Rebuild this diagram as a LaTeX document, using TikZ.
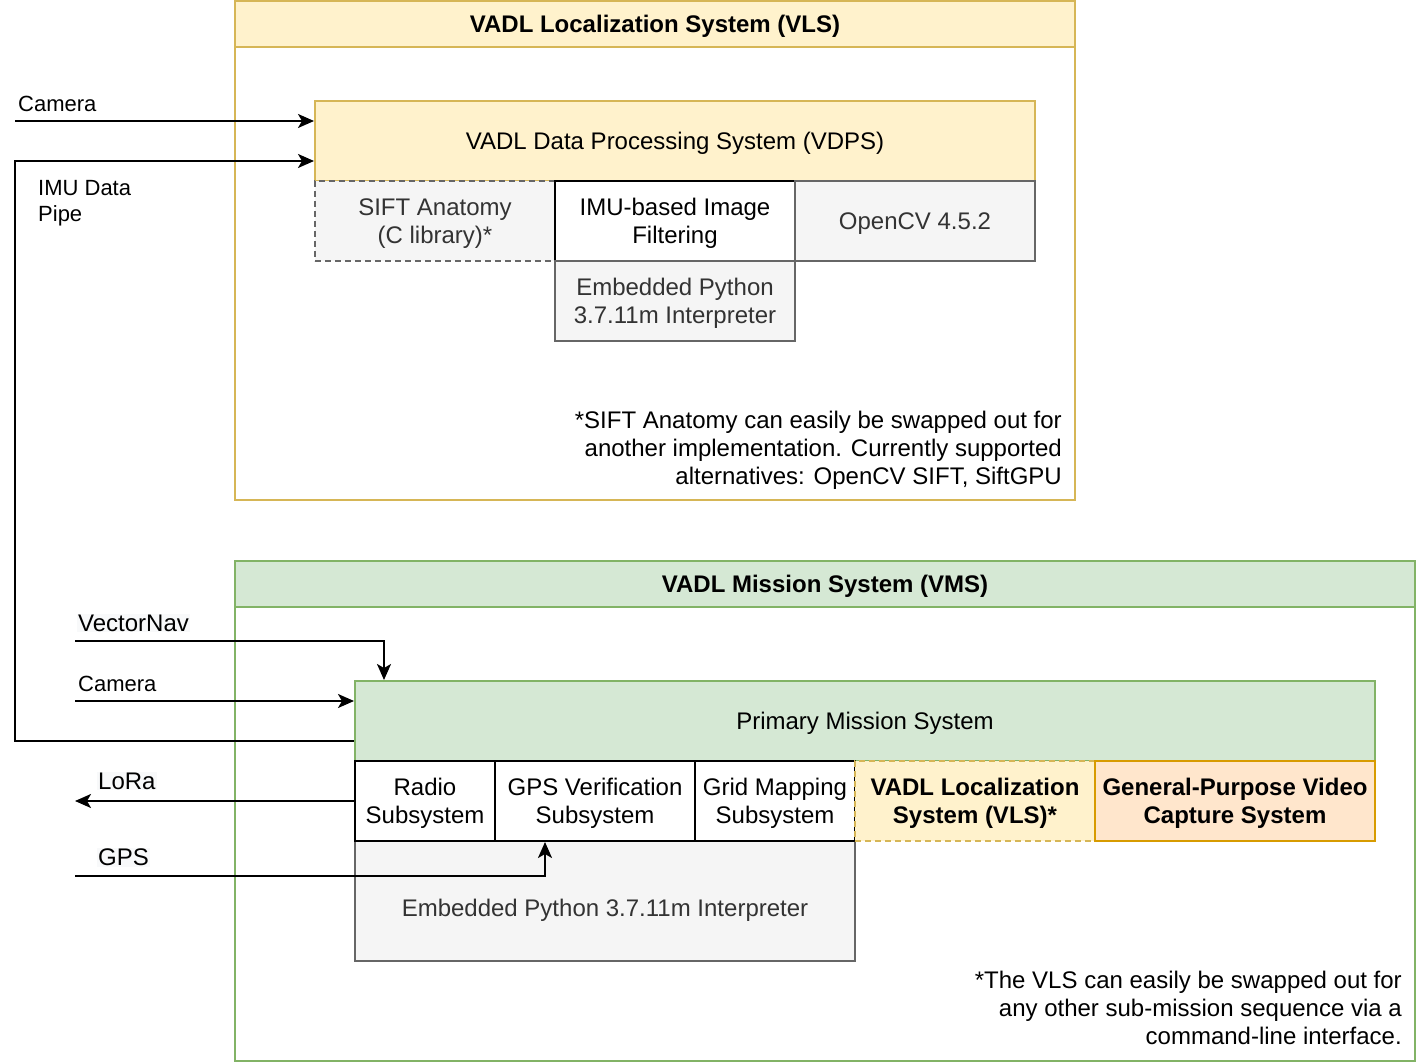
\documentclass[tikz,border=0pt]{standalone}
\usepackage{fontspec}
\setmainfont{Liberation Sans}
\usetikzlibrary{arrows.meta}
\definecolor{ylfill}{HTML}{FFF2CC}
\definecolor{ylline}{HTML}{D6B656}
\definecolor{grfill}{HTML}{D5E8D4}
\definecolor{grline}{HTML}{82B366}
\definecolor{gyfill}{HTML}{F5F5F5}
\definecolor{gyline}{HTML}{666666}
\definecolor{gytext}{HTML}{333333}
\definecolor{orfill}{HTML}{FFE6CC}
\definecolor{orline}{HTML}{D79B00}
\definecolor{lblbg}{HTML}{F8F9FA}
\begin{document}
\begin{tikzpicture}[x=1pt,y=-1pt,
  every node/.style={font=\fontsize{24}{28}\selectfont, inner sep=0pt, align=center},
  wh/.style 2 args={minimum width=#1, minimum height=#2},
  ctext/.style={text depth=0pt},
  plainbox/.style={ctext, draw=black, fill=white, line width=2pt},
  graybox/.style={ctext, draw=gyline, fill=gyfill, text=gytext, line width=2pt},
  yelbox/.style={ctext, draw=ylline, fill=ylfill, line width=2pt},
  grnbox/.style={ctext, draw=grline, fill=grfill, line width=2pt},
  orgbox/.style={ctext, draw=orline, fill=orfill, line width=2pt},
  note/.style={ctext, anchor=east, align=right},
  dash6/.style={dash pattern=on 6pt off 4pt},
  arr/.style={draw=black, line width=2pt, -{Stealth[length=16pt,width=14pt,inset=4pt]}},
  lblsmall/.style={anchor=west, font=\fontsize{22}{26}\selectfont, align=left},
  lblbox/.style={anchor=west, fill=lblbg, inner sep=1pt}
]
\useasboundingbox (0,0) rectangle (1416,1064);

% ---------- VLS ----------
\node[draw=ylline, fill=white, line width=2pt, wh={840}{499}] (vls) at (655,250.5) {};
\node[yelbox, wh={840}{46}, font=\bfseries\fontsize{24}{28}\selectfont] (vlstitle) at (655,24) {VADL Localization System (VLS)};

\node[yelbox, wh={720}{80}] (vdps) at (675,141) {VADL Data Processing System (VDPS)};
\node[graybox, dash6, wh={240}{80}] (sift) at (435,221) {SIFT Anatomy\\(C library)*};
\node[plainbox, wh={240}{80}] (imuf) at (675,221) {IMU-based Image\\Filtering};
\node[graybox, wh={240}{80}] (opencv) at (915,221) {OpenCV 4.5.2};
\node[graybox, wh={240}{80}] (py1) at (675,301) {Embedded Python\\3.7.11m Interpreter};

\node[note] (vlsnote) at (1062,448) {*SIFT Anatomy can easily be swapped out for\\another implementation. Currently supported\\alternatives: OpenCV SIFT, SiftGPU};

% ---------- VMS ----------
\node[draw=grline, fill=white, line width=2pt, wh={1180}{500}] (vms) at (825,811) {};
\node[grnbox, wh={1180}{46}, font=\bfseries\fontsize{24}{28}\selectfont] (vmstitle) at (825,584) {VADL Mission System (VMS)};

\node[grnbox, wh={1020}{80}] (pms) at (865,721) {Primary Mission System};
\node[graybox, wh={500}{120}, text height=31pt] (py2) at (605,901) {Embedded Python 3.7.11m Interpreter};
\node[plainbox, wh={140}{80}] (radio) at (425,801) {Radio\\Subsystem};
\node[plainbox, wh={200}{80}] (gpsv) at (595,801) {GPS Verification\\Subsystem};
\node[plainbox, wh={160}{80}] (grid) at (775,801) {Grid Mapping\\Subsystem};
\node[yelbox, dash6, wh={240}{80}, font=\bfseries\fontsize{24}{28}\selectfont] (vlssub) at (975,801) {VADL Localization\\System (VLS)*};
\node[orgbox, wh={280}{80}, font=\bfseries\fontsize{24}{28}\selectfont] (video) at (1235,801) {General-Purpose Video\\Capture System};

\node[note] (vmsnote) at (1402,1008) {*The VLS can easily be swapped out for\\any other sub-mission sequence via a\\command-line interface.};

% ---------- connectors ----------
\coordinate (cam1) at (15,121);
\coordinate (imuc) at (15,161);
\coordinate (imul) at (15,741);
\coordinate (vn) at (75,641);
\coordinate (cam2) at (75,701);
\coordinate (lora) at (75,801);
\coordinate (gps) at (75,876);

\draw[arr] (cam1) -- (cam1 -| vdps.west);
\draw[arr] ([yshift=-20pt]pms.west) -- (imul) -- (imuc) -- (imuc -| vdps.west);
\draw[arr] (vn) -| ([xshift=30pt]pms.north west);
\draw[arr] (cam2) -- (cam2 -| pms.west);
\draw[arr] (radio.west) -- (radio.west -| lora);
\draw[arr] (gps) -| ([xshift=-50pt]gpsv.south);

% ---------- labels ----------
\node[lblsmall] (lcam1) at (18,104) {Camera};
\node[lblsmall] (limu) at (38,203) {IMU Data\\Pipe};
\node[lblbox] (lvn) at (77,623) {VectorNav};
\node[lblsmall] (lcam2) at (78,684) {Camera};
\node[lblbox] (llora) at (97,781) {LoRa};
\node[lblbox] (lgps) at (97,857) {GPS};
\end{tikzpicture}
\end{document}
